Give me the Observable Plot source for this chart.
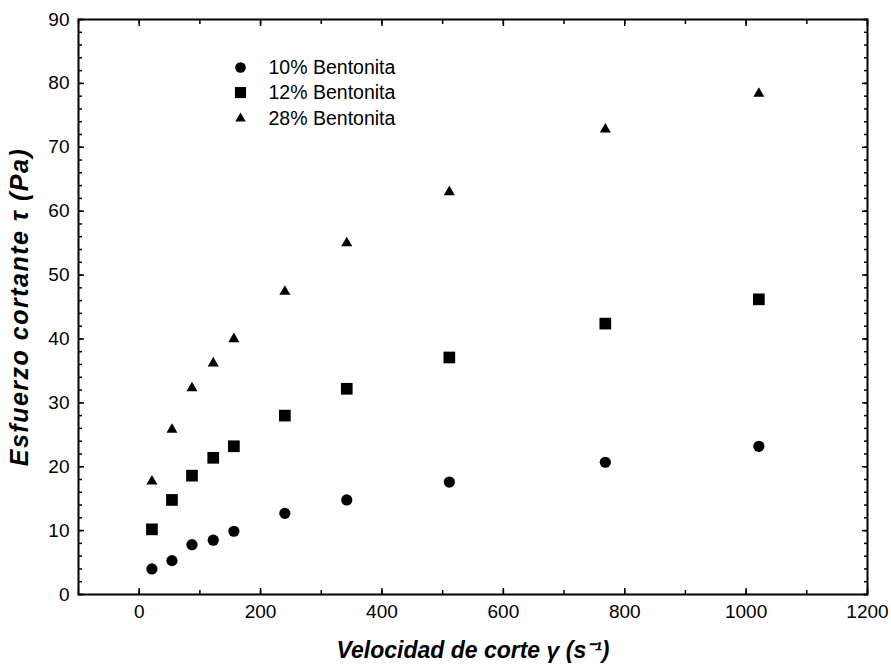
<!DOCTYPE html>
<html>
<head>
<meta charset="utf-8">
<script src="https://cdn.jsdelivr.net/npm/d3@7"></script>
<script src="https://cdn.jsdelivr.net/npm/@observablehq/plot@0.6"></script>
<style>
  html, body { margin: 0; padding: 0; background: #fff; }
  #chart svg { font-family: "Liberation Sans", Arial, sans-serif; }
  #chart svg [aria-label="x-axis label"] text { font-weight: bold; font-style: italic; font-size: 23px; }
  #chart svg [aria-label="y-axis label"] text { font-weight: bold; font-style: italic; font-size: 25px; letter-spacing: 1.5px; }
</style>
</head>
<body>
<div id="chart"></div>
<script>
// Shear rate (s^-1)
const shearRate = [21, 54, 87, 122, 156, 240, 342, 511, 768, 1021];
// Shear stress (Pa) per series
const bentonita10 = [4.0, 5.3, 7.8, 8.5, 9.9, 12.7, 14.8, 17.6, 20.7, 23.2];
const bentonita12 = [10.2, 14.8, 18.6, 21.4, 23.2, 28.0, 32.2, 37.1, 42.4, 46.2];
const bentonita28 = [17.7, 25.8, 32.3, 36.2, 40.0, 47.4, 55.0, 63.0, 72.8, 78.4];
const seriesNames = ["10% Bentonita", "12% Bentonita", "28% Bentonita"];
const seriesSymbols = ["circle", "square", "triangle"];
const seriesR = [5.6, 6.6, 4.1];
const xTicks = [0, 200, 400, 600, 800, 1000, 1200];
const yTicks = [0, 10, 20, 30, 40, 50, 60, 70, 80, 90];

const seriesValues = [bentonita10, bentonita12, bentonita28];
const series = seriesNames.map((name, i) => ({
  name, symbol: seriesSymbols[i], r: seriesR[i],
  data: shearRate.map((x, j) => ({x, y: seriesValues[i][j]}))
}));

const legendRows = [48, 73, 99];

const chart = Plot.plot({
  width: 891,
  height: 671,
  marginLeft: 78,
  marginRight: 24,
  marginTop: 19,
  marginBottom: 77,
  style: {fontSize: "19px", fontFamily: "Liberation Sans, Arial, sans-serif", color: "#000"},
  x: {domain: [-100, 1200]},
  y: {domain: [0, 90]},
  marks: [
    // minor ticks
    Plot.axisX(d3.range(-100, 1201, 100), {anchor: "bottom", tickSize: -4, text: null, label: null, strokeWidth: 1.5}),
    Plot.axisX(d3.range(-100, 1201, 100), {anchor: "top", tickSize: -4, text: null, label: null, strokeWidth: 1.5}),
    Plot.axisY(d3.range(0, 91, 2), {anchor: "left", tickSize: -4, text: null, label: null, strokeWidth: 1.5}),
    Plot.axisY(d3.range(0, 91, 2), {anchor: "right", tickSize: -4, text: null, label: null, strokeWidth: 1.5}),
    // major ticks
    Plot.axisX(xTicks, {anchor: "bottom", tickSize: -6, text: null, label: null, strokeWidth: 1.5}),
    Plot.axisX(xTicks, {anchor: "top", tickSize: -6, text: null, label: null, strokeWidth: 1.5}),
    Plot.axisY(yTicks, {anchor: "left", tickSize: -6, text: null, label: null, strokeWidth: 1.5}),
    Plot.axisY(yTicks, {anchor: "right", tickSize: -6, text: null, label: null, strokeWidth: 1.5}),
    // labels
    Plot.axisX(xTicks, {anchor: "bottom", tickSize: 0, tickPadding: 10, tickFormat: d => String(d),
      label: "Velocidad de corte γ (s⁻¹)", labelAnchor: "center", labelOffset: 63, labelArrow: "none", fontSize: 19}),
    Plot.axisY(yTicks, {anchor: "left", tickSize: 0, tickPadding: 9, tickFormat: d => String(d),
      label: "Esfuerzo cortante τ (Pa)", labelAnchor: "center", labelOffset: 68, labelArrow: "none", fontSize: 19}),
    Plot.frame({stroke: "#000", strokeWidth: 2}),
    ...series.map(s => Plot.dot(s.data, {x: "x", y: "y", symbol: () => s.symbol, r: s.r, fill: "#000", stroke: "none"})),
    // legend
    ...series.flatMap((s, i) => [
      Plot.dot([s], {frameAnchor: "top-left", dx: 162, dy: legendRows[i], symbol: () => s.symbol, r: s.r * 0.95, fill: "#000", stroke: "none"}),
      Plot.text([s], {frameAnchor: "top-left", dx: 190, dy: legendRows[i], text: "name", textAnchor: "start", lineAnchor: "middle", fontSize: 19.5, fill: "#000"})
    ])
  ]
});
document.getElementById("chart").appendChild(chart);
</script>
</body>
</html>
